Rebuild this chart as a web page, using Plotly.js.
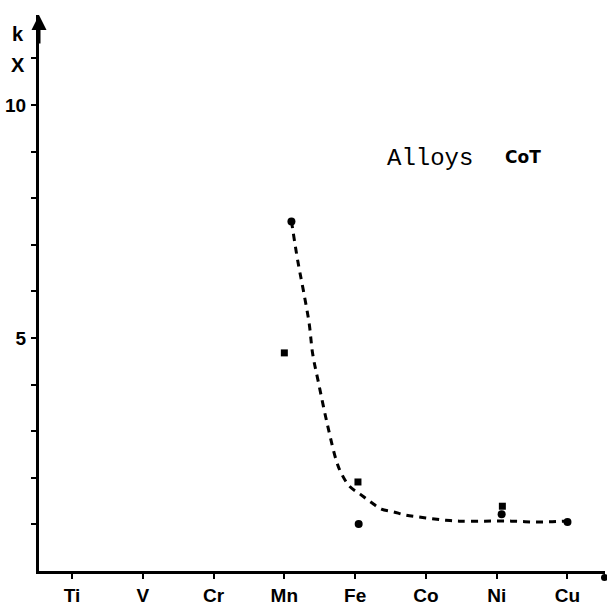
<!DOCTYPE html>
<html><head><meta charset="utf-8">
<script src="https://cdn.plot.ly/plotly-3.0.1.min.js"></script>
<style>html,body{margin:0;padding:0;background:#fff}</style>
</head><body><div id="chart" style="width:607px;height:609px"></div>
<script>
// Categories (3d elements alloyed)
const elements = ["Ti", "V", "Cr", "Mn", "Fe", "Co", "Ni", "Cu"];
const elementPos = [1, 2, 3, 4, 5, 6, 7, 8];

// Measured points (round dots)
const dotX = [4.1, 5.05, 7.07, 8.0];
const dotY = [7.5, 1.01, 1.22, 1.05];

// Measured points (squares)
const sqX = [4.0, 5.04, 7.08];
const sqY = [4.68, 1.91, 1.39];

// Dashed guide curve
const curveX = [4.10, 4.19, 4.27, 4.35, 4.40, 4.48, 4.61, 4.74, 4.81, 4.92, 5.07, 5.22, 5.37, 5.54, 5.71, 5.89, 6.09, 6.28, 6.47, 6.83, 7.21, 7.58, 7.96];
const curveY = [7.51, 6.65, 6.01, 5.32, 4.66, 4.06, 3.13, 2.34, 2.08, 1.82, 1.65, 1.48, 1.33, 1.27, 1.20, 1.16, 1.12, 1.09, 1.07, 1.07, 1.07, 1.05, 1.07];

// y ticks
const yTickVals = [1, 2, 3, 4, 5, 6, 7, 8, 9, 10, 11];
const yTickText = ["", "", "", "", "5", "", "", "", "", "10", ""];

const traces = [
  {x: curveX, y: curveY, mode: "lines", type: "scatter",
   line: {color: "#000", width: 3, dash: "7px,6px", shape: "spline"}, hoverinfo: "skip"},
  {x: dotX, y: dotY, mode: "markers", type: "scatter",
   marker: {symbol: "circle", size: 8, color: "#000"}},
  {x: sqX, y: sqY, mode: "markers", type: "scatter",
   marker: {symbol: "square", size: 7, color: "#000"}}
];

const sansBold = "Liberation Sans, Arial, sans-serif";

const layout = {
  width: 607, height: 609,
  margin: {l: 39, r: 2, t: 15, b: 38},
  paper_bgcolor: "#fff", plot_bgcolor: "#fff",
  showlegend: false,
  xaxis: {
    range: [0.534, 8.53], tickmode: "array", tickvals: elementPos, ticktext: elements,
    showgrid: false, zeroline: false, showline: true, linecolor: "#000", linewidth: 3,
    ticks: "outside", ticklen: 5, tickwidth: 2, tickcolor: "#000",
    ticklabelstandoff: 0,
    tickfont: {family: sansBold, size: 19, color: "#000", weight: "bold"}, fixedrange: true
  },
  yaxis: {
    range: [0, 11.93], tickmode: "array", tickvals: yTickVals, ticktext: yTickText,
    showgrid: false, zeroline: false, showline: true, linecolor: "#000", linewidth: 3,
    ticks: "outside", ticklen: 5, tickwidth: 2, tickcolor: "#000",
    ticklabelstandoff: 1,
    tickfont: {family: sansBold, size: 19, color: "#000", weight: "bold"},
    fixedrange: true
  },
  annotations: [
    {xref: "paper", yref: "paper", x: 0, y: 1.0, ax: 0, ay: 30, axref: "pixel", ayref: "pixel",
     showarrow: true, arrowhead: 2, arrowsize: 1, arrowwidth: 3, arrowcolor: "#000", text: ""},
    {xref: "paper", yref: "paper", x: -0.037, y: 0.966, xanchor: "center", yanchor: "middle",
     text: "k", showarrow: false,
     font: {family: sansBold, size: 20, color: "#000", weight: "bold"}},
    {xref: "paper", yref: "paper", x: -0.037, y: 0.910, xanchor: "center", yanchor: "middle",
     text: "X", showarrow: false,
     font: {family: sansBold, size: 20, color: "#000", weight: "bold"}},
    {xref: "paper", yref: "paper", x: 0.612, y: 0.742, xanchor: "left", yanchor: "middle", showarrow: false,
     text: "Alloys",
     font: {family: "Liberation Mono, Courier New, monospace", size: 24, color: "#000"}},
    {xref: "paper", yref: "paper", x: 0.82, y: 0.744, xanchor: "left", yanchor: "middle", showarrow: false,
     text: "CoT",
     font: {family: "DejaVu Sans, sans-serif", size: 17, color: "#000", weight: "bold"}}
  ],
  shapes: [
    {type: "circle", xref: "paper", yref: "paper", xsizemode: "pixel", ysizemode: "pixel",
     xanchor: 1, yanchor: 0, x0: -4, x1: 3, y0: -10, y1: -3, fillcolor: "#000", line: {width: 0}}
  ]
};

Plotly.newPlot("chart", traces, layout, {displayModeBar: false, staticPlot: true});
</script></body></html>
